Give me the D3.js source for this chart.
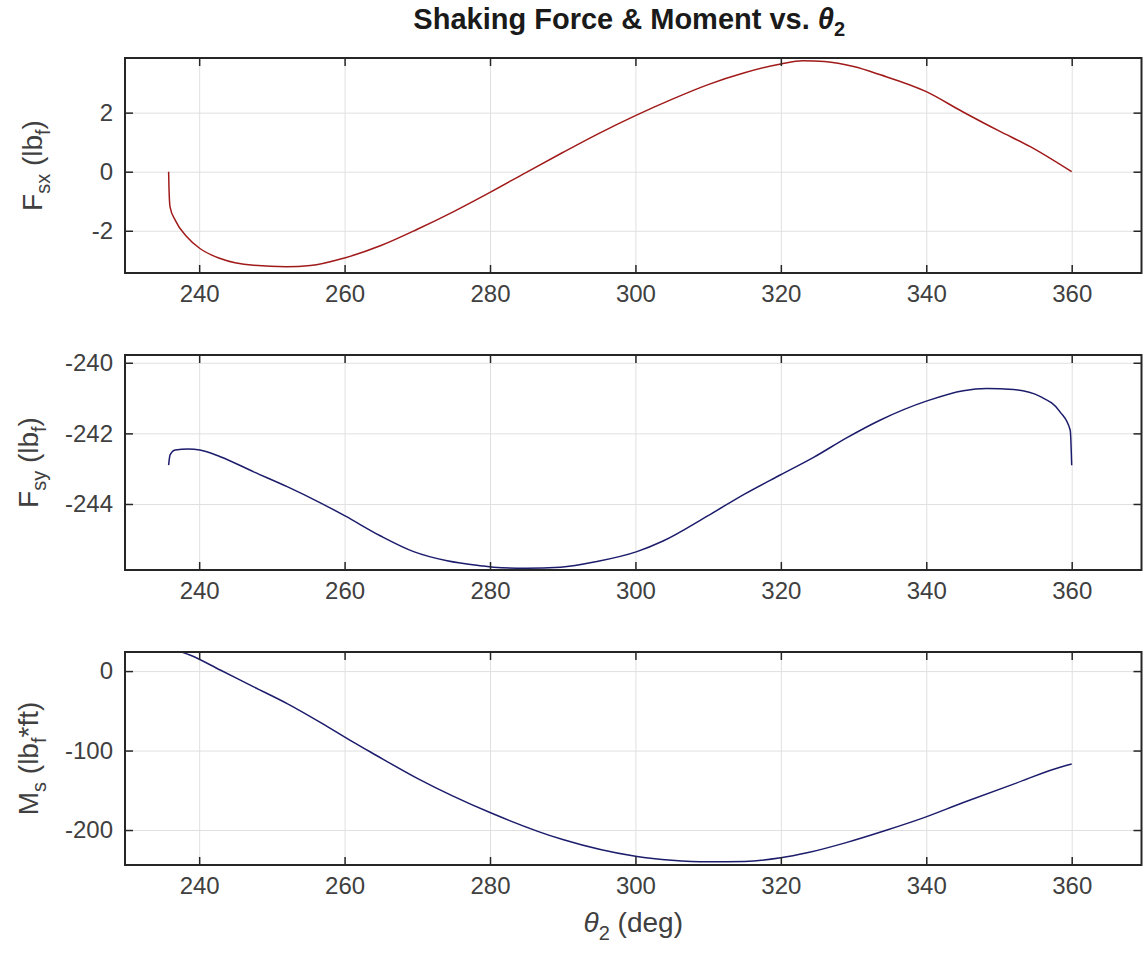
<!DOCTYPE html>
<html>
<head>
<meta charset="utf-8">
<script src="https://cdn.jsdelivr.net/npm/d3@7"></script>
<style>
body { margin: 0; background: #fff; }
svg { display: block; font-family: "Liberation Sans", Arial, Helvetica, sans-serif; }
</style>
</head>
<body>
<svg id="chart" width="1143" height="958"></svg>
<script>
// values
const thetaFsx = [235.8, 235.85, 236.0, 236.7, 238.3, 240.1, 242.9, 247.5, 252, 255.3, 260, 265, 270, 275, 280, 285, 290, 295, 300, 305, 310, 315, 320, 323, 326, 330, 333.7, 340, 345, 350, 354.3, 360]
const fsx = [0, -0.55, -1.2, -1.64, -2.2, -2.6, -2.94, -3.17, -3.22, -3.18, -2.92, -2.5, -1.95, -1.35, -0.7, -0.02, 0.65, 1.3, 1.9, 2.45, 2.95, 3.35, 3.65, 3.76, 3.73, 3.56, 3.28, 2.71, 2.03, 1.38, 0.85, 0]

const thetaFsy = [235.8, 236.0, 236.7, 238.5, 240.1, 242.9, 247.5, 252.1, 256.6, 260, 264.9, 269.5, 274.1, 278.7, 280.5, 285, 289.7, 294.7, 300.2, 303.8, 310, 315, 319.9, 324.5, 329.1, 333.7, 340.1, 345.1, 348.3, 352, 355.7, 358.4, 359.8, 360]
const fsy = [-242.9, -242.61, -242.47, -242.44, -242.47, -242.66, -243.09, -243.51, -243.96, -244.33, -244.9, -245.35, -245.61, -245.75, -245.79, -245.82, -245.79, -245.63, -245.35, -245.05, -244.33, -243.72, -243.18, -242.68, -242.12, -241.62, -241.08, -240.79, -240.73, -240.76, -240.96, -241.39, -241.91, -242.9]

const thetaMs = [237.6, 238.8, 242.9, 247.5, 252.1, 256.6, 261.2, 263.5, 270, 280, 290, 300, 305, 310, 315, 320, 323.6, 329.1, 334.6, 339.2, 345.1, 352, 359.1, 360]
const ms = [24, 20, 1.3, -19.9, -40.9, -64.2, -89.5, -101.5, -135, -178, -212, -233, -238, -240, -239.5, -235, -228.7, -215.5, -200, -186, -165.4, -142.2, -119, -117]

const xTicks = [240, 260, 280, 300, 320, 340, 360]
const fsxTicks = [-2, 0, 2]
const fsyTicks = [-244, -242, -240]
const msTicks = [-200, -100, 0]

const svg = d3.select("#chart")
const W = 1143, H = 958
const left = 125, right = 1141.5
const TICK = 8
const BOX = "#262626", GRID = "#e0e0e0", LABEL = "#404040"

svg.append("rect").attr("width", W).attr("height", H).attr("fill", "#fff")

let x = d3.scaleLinear().domain([229.8, 369.6]).range([left, right])

const panels = [
    { id: "fsx", xs: thetaFsx, ys: fsx, top: 58, bottom: 273, yDomain: [-3.43, 3.85], yTicks: fsxTicks, color: "#a11a1a", label: [["F", 0], ["sx", 1], [" (lb", 0], ["f", 1], [")", 0]], labelX: 42 },
    { id: "fsy", xs: thetaFsy, ys: fsy, top: 355, bottom: 570, yDomain: [-245.87, -239.78], yTicks: fsyTicks, color: "#1c1c6c", label: [["F", 0], ["sy", 1], [" (lb", 0], ["f", 1], [")", 0]], labelX: 38 },
    { id: "ms", xs: thetaMs, ys: ms, top: 652, bottom: 865, yDomain: [-244, 24], yTicks: msTicks, color: "#1c1c6c", label: [["M", 0], ["s", 1], [" (lb", 0], ["f", 1], ["*ft)", 0]], labelX: 38 }
]

function styleAxis(g, showText) {
    g.select(".domain").remove()
    g.selectAll(".tick line").attr("stroke", BOX).attr("stroke-width", 1.5)
    g.selectAll(".tick text").attr("fill", LABEL).attr("font-size", 24)
        .attr("font-family", "Liberation Sans, Arial, sans-serif")
    if (!showText) g.selectAll(".tick text").remove()
}

function drawPanel(p) {
    const h = p.bottom - p.top
    let y = d3.scaleLinear().domain(p.yDomain).range([p.bottom, p.top])
    const g = svg.append("g").attr("class", "panel " + p.id)

    // grid
    g.append("g")
        .attr("transform", "translate(0," + p.bottom + ")")
        .call(d3.axisBottom(x).tickValues(xTicks).tickSize(-h).tickFormat(""))
        .call(s => s.select(".domain").remove())
        .selectAll("line").attr("stroke", GRID).attr("stroke-width", 1)
    g.append("g")
        .attr("transform", "translate(" + left + ",0)")
        .call(d3.axisLeft(y).tickValues(p.yTicks).tickSize(-(right - left)).tickFormat(""))
        .call(s => s.select(".domain").remove())
        .selectAll("line").attr("stroke", GRID).attr("stroke-width", 1)

    // curve
    svg.append("clipPath").attr("id", "clip-" + p.id)
        .append("rect").attr("x", left).attr("y", p.top).attr("width", right - left).attr("height", h)

    let line = d3.line()
        .x((d, i) => x(p.xs[i]))
        .y(d => y(d))
        .curve(d3.curveMonotoneX)

    g.append("path")
        .attr("clip-path", "url(#clip-" + p.id + ")")
        .attr("d", line(p.ys))
        .attr("fill", "none")
        .attr("stroke", p.color)
        .attr("stroke-width", 1.5)

    // inward ticks on all four sides
    g.append("g").attr("transform", "translate(0," + p.bottom + ")")
        .call(d3.axisBottom(x).tickValues(xTicks).tickFormat(d => d).tickSizeInner(-TICK).tickSizeOuter(0).tickPadding(12))
        .call(s => styleAxis(s, true))
    g.append("g").attr("transform", "translate(0," + p.top + ")")
        .call(d3.axisTop(x).tickValues(xTicks).tickSizeInner(-TICK).tickSizeOuter(0))
        .call(s => styleAxis(s, false))
    g.append("g").attr("transform", "translate(" + left + ",0)")
        .call(d3.axisLeft(y).tickValues(p.yTicks).tickFormat(d => String(d)).tickSizeInner(-TICK).tickSizeOuter(0).tickPadding(12))
        .call(s => styleAxis(s, true))
    g.append("g").attr("transform", "translate(" + right + ",0)")
        .call(d3.axisRight(y).tickValues(p.yTicks).tickSizeInner(-TICK).tickSizeOuter(0))
        .call(s => styleAxis(s, false))

    g.append("rect")
        .attr("x", left).attr("y", p.top)
        .attr("width", right - left).attr("height", h)
        .attr("fill", "none").attr("stroke", BOX).attr("stroke-width", 2)

    // y label with subscripts
    const cy = (p.top + p.bottom) / 2
    const t = g.append("text")
        .attr("transform", "translate(" + p.labelX + "," + cy + ") rotate(-90)")
        .attr("text-anchor", "middle")
        .attr("font-size", 28)
        .attr("fill", LABEL)
    let lvl = 0
    p.label.forEach(([s, sub]) => {
        const ts = t.append("tspan").text(s)
        if (sub) ts.attr("font-size", 20)
        if (sub != lvl) ts.attr("dy", sub ? 8 : -8)
        lvl = sub
    })
}

panels.forEach(drawPanel)

// title
const cx = (left + right) / 2
const title = svg.append("text")
    .attr("x", cx - 4).attr("y", 29)
    .attr("text-anchor", "middle")
    .attr("font-size", 29)
    .attr("font-weight", "bold")
    .attr("fill", "#1a1a1a")
title.append("tspan").text("Shaking Force & Moment vs. ")
title.append("tspan").text("θ").attr("font-style", "italic")
title.append("tspan").text("2").attr("font-size", 20).attr("dy", 7)

// x label
const xl = svg.append("text")
    .attr("x", cx).attr("y", 932)
    .attr("text-anchor", "middle")
    .attr("font-size", 28)
    .attr("fill", LABEL)
xl.append("tspan").text("θ").attr("font-style", "italic")
xl.append("tspan").text("2").attr("font-size", 20).attr("dy", 8)
xl.append("tspan").text(" (deg)").attr("dy", -8)
</script>
</body>
</html>
